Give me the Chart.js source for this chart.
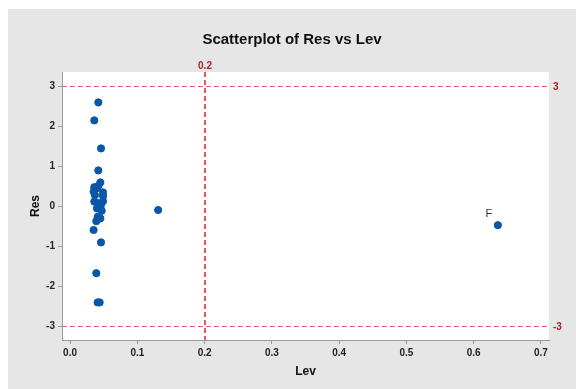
<!DOCTYPE html>
<html>
<head>
<meta charset="utf-8">
<script src="https://cdn.jsdelivr.net/npm/chart.js@4"></script>
<style>
  html, body { margin: 0; padding: 0; background: #fff; }
  #wrap { width: 576px; height: 389px; }
</style>
</head>
<body>
<div id="wrap"><canvas id="chart" width="576" height="389"></canvas></div>
<script>
// leverage and residual values
const lev = [0.042, 0.036, 0.046, 0.042, 0.045, 0.042, 0.036, 0.039, 0.035, 0.049,
             0.049, 0.037, 0.036, 0.049, 0.042, 0.046, 0.045, 0.040, 0.047, 0.041,
             0.045, 0.039, 0.035, 0.046, 0.039, 0.041, 0.044, 0.131, 0.636];
const res = [2.59, 2.14, 1.44, 0.89, 0.59, 0.50, 0.47, 0.44, 0.36, 0.34,
             0.25, 0.27, 0.11, 0.12, 0.07, 0.03, -0.04, -0.06, -0.12, -0.27,
             -0.31, -0.38, -0.60, -0.91, -1.68, -2.41, -2.41, -0.10, -0.48];
const pointLabels = { 28: "F" };

const xTicks = [0, 0.1, 0.2, 0.3, 0.4, 0.5, 0.6, 0.7];
const yTicks = [-3, -2, -1, 0, 1, 2, 3];
const refX = [0.2];
const refY = [3, -3];

const points = lev.map((v, i) => ({ x: v, y: res[i] }));
const FONT = "'Liberation Sans', Arial, sans-serif";

// gray frame, reference lines and their labels
const decor = {
  id: "decor",
  beforeDraw(chart) {
    const { ctx, chartArea: a } = chart;
    ctx.save();
    ctx.fillStyle = "#e6e6e6";
    ctx.fillRect(8, 9, chart.width - 8, chart.height - 9);
    ctx.fillStyle = "#fff";
    ctx.fillRect(a.left, a.top, a.right - a.left, a.bottom - a.top);
    ctx.fillStyle = "#111";
    ctx.font = "bold 15px " + FONT;
    ctx.textAlign = "center";
    ctx.textBaseline = "middle";
    ctx.fillText("Scatterplot of Res vs Lev", 292, 40);
    ctx.restore();
  },
  beforeDatasetsDraw(chart) {
    const { ctx, chartArea: a, scales } = chart;
    ctx.save();
    ctx.setLineDash([5, 3]);
    ctx.font = "bold 10px " + FONT;
    ctx.fillStyle = "#a8202a";
    ctx.strokeStyle = "#ee5a5e";
    ctx.lineWidth = 1;
    refY.forEach(v => {
      const y = Math.round(scales.y.getPixelForValue(v)) + 0.5;
      ctx.beginPath(); ctx.moveTo(a.left, y); ctx.lineTo(a.right, y); ctx.stroke();
      ctx.textAlign = "left"; ctx.textBaseline = "middle";
      ctx.fillText(String(v), a.right + 4, y + 1);
    });
    ctx.strokeStyle = "#dc2828";
    ctx.lineWidth = 1.5;
    refX.forEach(v => {
      const x = Math.round(scales.x.getPixelForValue(v));
      ctx.beginPath(); ctx.moveTo(x, a.top); ctx.lineTo(x, a.bottom); ctx.stroke();
      ctx.textAlign = "center"; ctx.textBaseline = "bottom";
      ctx.fillText(v.toFixed(1), x, a.top - 1);
    });
    ctx.restore();
  },
  afterDatasetsDraw(chart) {
    const { ctx } = chart;
    const meta = chart.getDatasetMeta(0);
    ctx.save();
    ctx.font = "11px " + FONT;
    ctx.fillStyle = "#333";
    ctx.textAlign = "center";
    ctx.textBaseline = "bottom";
    Object.keys(pointLabels).forEach(i => {
      const el = meta.data[i];
      ctx.fillText(pointLabels[i], el.x - 9, el.y - 6);
    });
    ctx.restore();
  }
};

new Chart(document.getElementById("chart"), {
  type: "scatter",
  data: {
    datasets: [{
      data: points,
      backgroundColor: "#0a56a8",
      borderColor: "#0a56a8",
      pointRadius: 3.6,
      pointHoverRadius: 3.6
    }]
  },
  options: {
    responsive: false,
    animation: false,
    layout: { padding: { top: 72, right: 27, left: 0, bottom: 0 } },
    plugins: { legend: { display: false }, tooltip: { enabled: false } },
    scales: {
      x: {
        type: "linear",
        min: -0.012,
        max: 0.712,
        afterBuildTicks: s => { s.ticks = xTicks.map(v => ({ value: v })); },
        afterFit: s => { s.height = 49; },
        ticks: {
          color: "#222",
          font: { family: FONT, size: 10, weight: "bold" },
          padding: 3,
          maxRotation: 0,
          callback: v => v.toFixed(1)
        },
        grid: { drawOnChartArea: false, drawTicks: true, tickLength: 4, color: "#9a9a9a" },
        border: { color: "#9a9a9a" },
        title: {
          display: true,
          text: "Lev",
          color: "#111",
          font: { family: FONT, size: 12, weight: "bold" },
          padding: { top: 4, bottom: 10 }
        }
      },
      y: {
        type: "linear",
        min: -3.35,
        max: 3.35,
        afterBuildTicks: s => { s.ticks = yTicks.map(v => ({ value: v })); },
        afterFit: s => { s.width = 62; },
        ticks: {
          color: "#222",
          font: { family: FONT, size: 10, weight: "bold" },
          padding: 3,
          callback: v => String(v)
        },
        grid: { drawOnChartArea: false, drawTicks: true, tickLength: 4, color: "#9a9a9a" },
        border: { color: "#9a9a9a" },
        title: {
          display: true,
          text: "Res",
          color: "#111",
          font: { family: FONT, size: 12, weight: "bold" },
          padding: { top: 28 }
        }
      }
    }
  },
  plugins: [decor]
});
</script>
</body>
</html>
